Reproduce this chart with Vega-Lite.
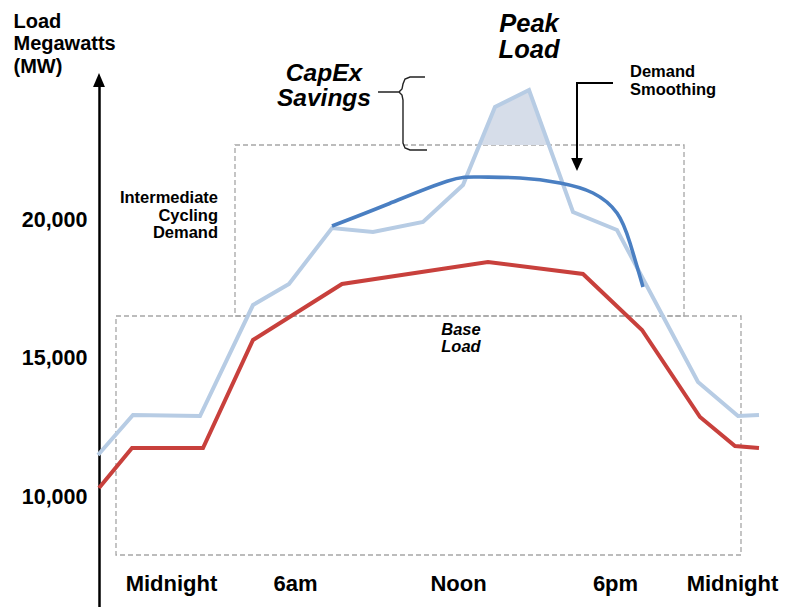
{
  "$schema": "https://vega.github.io/schema/vega-lite/v6.json",
  "width": 688,
  "height": 523,
  "autosize": "none",
  "padding": {"left": 99, "top": 84, "right": 0, "bottom": 0},
  "background": "white",
  "config": {"view": {"stroke": null}, "font": "Liberation Sans"},
  "datasets": {
    "demand": [
      {"h": -3.123, "mw": 11516}, {"h": -1.626, "mw": 12960}, {"h": 1.241, "mw": 12924},
      {"h": 3.508, "mw": 16931}, {"h": 5.048, "mw": 17690}, {"h": 6.888, "mw": 19711},
      {"h": 8.642, "mw": 19567}, {"h": 10.781, "mw": 19928}, {"h": 12.492, "mw": 21264},
      {"h": 13.861, "mw": 24079}, {"h": 15.316, "mw": 24693}, {"h": 17.198, "mw": 20289},
      {"h": 19.08, "mw": 19639}, {"h": 22.545, "mw": 14152}, {"h": 24.257, "mw": 12924},
      {"h": 25.155, "mw": 12960}
    ],
    "base": [
      {"h": -3.08, "mw": 10325}, {"h": -1.668, "mw": 11769}, {"h": 1.369, "mw": 11769},
      {"h": 3.508, "mw": 15668}, {"h": 7.316, "mw": 17690}, {"h": 13.561, "mw": 18484},
      {"h": 17.626, "mw": 18051}, {"h": 20.15, "mw": 16029}, {"h": 22.631, "mw": 12888},
      {"h": 24.128, "mw": 11841}, {"h": 25.155, "mw": 11769}
    ],
    "smoothed": [
      {"h": 6.888, "mw": 19783}, {"h": 9.241, "mw": 20560}, {"h": 11.807, "mw": 21400},
      {"h": 13.219, "mw": 21552}, {"h": 14.93, "mw": 21516}, {"h": 16.642, "mw": 21336},
      {"h": 18.053, "mw": 20975}, {"h": 19.08, "mw": 20253}, {"h": 19.636, "mw": 19170},
      {"h": 20.193, "mw": 17581}
    ],
    "peak": [
      {"h": 13.19, "mw": 22708, "cap": 22708}, {"h": 13.861, "mw": 24079, "cap": 22708},
      {"h": 15.316, "mw": 24693, "cap": 22708}, {"h": 16.17, "mw": 22708, "cap": 22708}
    ],
    "boxes": [
      {"name": "Intermediate", "h": 2.738, "h2": 21.947, "mw": 22708, "mw2": 16534},
      {"name": "Base", "h": -2.353, "h2": 24.385, "mw": 16534, "mw2": 7906}
    ],
    "brace": [
      {"i": 0, "h": 10.866, "mw": 25162}, {"i": 1, "h": 10.225, "mw": 25162},
      {"i": 2, "h": 10.011, "mw": 25090}, {"i": 3, "h": 9.925, "mw": 24910},
      {"i": 4, "h": 9.882, "mw": 24729}, {"i": 5, "h": 9.754, "mw": 24621},
      {"i": 6, "h": 8.856, "mw": 24621}, {"i": 7, "h": 9.754, "mw": 24621},
      {"i": 8, "h": 9.882, "mw": 24513}, {"i": 9, "h": 9.925, "mw": 24332},
      {"i": 10, "h": 9.925, "mw": 22780}, {"i": 11, "h": 10.011, "mw": 22599},
      {"i": 12, "h": 10.225, "mw": 22527}, {"i": 13, "h": 10.952, "mw": 22527}
    ],
    "arrow": [
      {"i": 0, "h": 18.909, "mw": 24946}, {"i": 1, "h": 17.369, "mw": 24946},
      {"i": 2, "h": 17.369, "mw": 22166}
    ],
    "one": [{}]
  },
  "layer": [
    {
      "data": {"name": "boxes"},
      "mark": {"type": "rect", "fill": null, "fillOpacity": 0, "stroke": "#a6a6a6", "strokeWidth": 1.3, "strokeDash": [5, 3]},
      "encoding": {
        "x": {"field": "h", "type": "quantitative",
          "scale": {"domain": [-3.08, 26.353], "nice": false, "zero": false},
          "axis": {"orient": "bottom", "offset": -24, "domain": false, "ticks": false, "grid": false,
            "values": [0, 5.305, 12.278, 18.995, 24],
            "labelExpr": "datum.value == 0 || datum.value == 24 ? 'Midnight' : datum.value < 6 ? '6am' : datum.value < 13 ? 'Noon' : '6pm'",
            "labelFont": "Liberation Sans", "labelFontSize": 22, "labelFontWeight": "bold", "labelColor": "black",
            "labelBaseline": "middle", "labelPadding": 0, "labelOverlap": false, "labelFlush": false, "title": null}},
        "x2": {"field": "h2"},
        "y": {"field": "mw", "type": "quantitative",
          "scale": {"domain": [6029, 24910], "nice": false, "zero": false},
          "axis": {"values": [10000, 15000, 20000], "labelExpr": "format(datum.value, ',')", "ticks": false, "grid": false,
            "domain": true, "domainColor": "black", "domainWidth": 2.5,
            "labelFont": "Liberation Sans", "labelFontSize": 21.5, "labelFontWeight": "bold", "labelColor": "black",
            "labelPadding": 12,
            "title": ["Load", "Megawatts", "(MW)"], "titleAngle": 0, "titleAlign": "left", "titleBaseline": "top",
            "titleX": -86, "titleY": -73, "titleFont": "Liberation Sans", "titleFontSize": 20, "titleFontWeight": "bold",
            "titleColor": "black", "titleLineHeight": 22.5}},
        "y2": {"field": "mw2"}
      }
    },
    {
      "data": {"name": "peak"},
      "mark": {"type": "area", "color": "#d6dde9", "opacity": 1},
      "encoding": {
        "x": {"field": "h", "type": "quantitative"},
        "y": {"field": "mw", "type": "quantitative"},
        "y2": {"field": "cap"}
      }
    },
    {
      "data": {"name": "demand"},
      "mark": {"type": "line", "color": "#b7cce4", "strokeWidth": 4},
      "encoding": {
        "x": {"field": "h", "type": "quantitative"},
        "y": {"field": "mw", "type": "quantitative"}
      }
    },
    {
      "data": {"name": "base"},
      "mark": {"type": "line", "color": "#c8403c", "strokeWidth": 4},
      "encoding": {
        "x": {"field": "h", "type": "quantitative"},
        "y": {"field": "mw", "type": "quantitative"}
      }
    },
    {
      "data": {"name": "smoothed"},
      "mark": {"type": "line", "color": "#4a7fc2", "strokeWidth": 3.6, "interpolate": "natural"},
      "encoding": {
        "x": {"field": "h", "type": "quantitative"},
        "y": {"field": "mw", "type": "quantitative"}
      }
    },
    {
      "data": {"name": "brace"},
      "mark": {"type": "line", "color": "#222222", "strokeWidth": 1.4},
      "encoding": {
        "x": {"field": "h", "type": "quantitative"},
        "y": {"field": "mw", "type": "quantitative"},
        "order": {"field": "i"}
      }
    },
    {
      "data": {"name": "arrow"},
      "mark": {"type": "line", "color": "black", "strokeWidth": 2},
      "encoding": {
        "x": {"field": "h", "type": "quantitative"},
        "y": {"field": "mw", "type": "quantitative"},
        "order": {"field": "i"}
      }
    },
    {
      "data": {"name": "one"},
      "mark": {"type": "point", "shape": "M-0.9,-1L0.9,-1L0,1Z", "size": 169, "filled": true, "color": "black", "opacity": 1},
      "encoding": {"x": {"datum": 17.369, "type": "quantitative"}, "y": {"datum": 22004, "type": "quantitative"}}
    },
    {
      "data": {"name": "one"},
      "mark": {"type": "point", "shape": "M-0.85,1L0.85,1L0,-1Z", "size": 196, "filled": true, "color": "black", "opacity": 1},
      "encoding": {"x": {"datum": -3.08, "type": "quantitative"}, "y": {"datum": 25054, "type": "quantitative"}}
    },
    {
      "data": {"name": "one"},
      "mark": {"type": "text", "text": ["Peak", "Load"], "font": "Liberation Sans", "fontSize": 25.5, "fontWeight": "bold", "fontStyle": "italic", "align": "center", "baseline": "middle", "lineHeight": 25.5, "color": "black"},
      "encoding": {"x": {"datum": 15.316, "type": "quantitative"}, "y": {"datum": 27076, "type": "quantitative"}}
    },
    {
      "data": {"name": "one"},
      "mark": {"type": "text", "text": ["CapEx", "Savings"], "font": "Liberation Sans", "fontSize": 24.5, "fontWeight": "bold", "fontStyle": "italic", "align": "center", "baseline": "middle", "lineHeight": 24.5, "color": "black"},
      "encoding": {"x": {"datum": 6.545, "type": "quantitative"}, "y": {"datum": 25271, "type": "quantitative"}}
    },
    {
      "data": {"name": "one"},
      "mark": {"type": "text", "text": ["Demand", "Smoothing"], "font": "Liberation Sans", "fontSize": 16.5, "fontWeight": "bold", "align": "left", "baseline": "middle", "lineHeight": 18, "color": "black"},
      "encoding": {"x": {"datum": 19.636, "type": "quantitative"}, "y": {"datum": 25343, "type": "quantitative"}}
    },
    {
      "data": {"name": "one"},
      "mark": {"type": "text", "text": ["Intermediate", "Cycling", "Demand"], "font": "Liberation Sans", "fontSize": 16.5, "fontWeight": "bold", "align": "right", "baseline": "middle", "lineHeight": 17.5, "color": "black"},
      "encoding": {"x": {"datum": 2.011, "type": "quantitative"}, "y": {"datum": 20794, "type": "quantitative"}}
    },
    {
      "data": {"name": "one"},
      "mark": {"type": "text", "text": ["Base", "Load"], "font": "Liberation Sans", "fontSize": 16.5, "fontWeight": "bold", "fontStyle": "italic", "align": "center", "baseline": "middle", "lineHeight": 16.5, "color": "black"},
      "encoding": {"x": {"datum": 12.406, "type": "quantitative"}, "y": {"datum": 16029, "type": "quantitative"}}
    }
  ]
}
